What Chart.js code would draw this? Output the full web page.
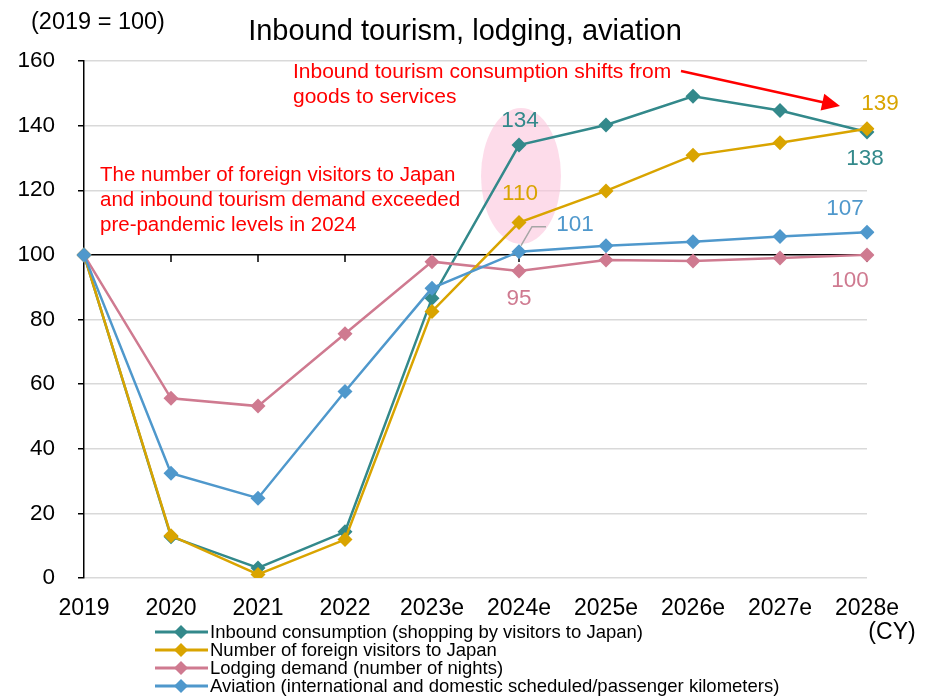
<!DOCTYPE html>
<html>
<head>
<meta charset="utf-8">
<script src="https://cdn.jsdelivr.net/npm/chart.js@4.4.1/dist/chart.umd.min.js"></script>
<style>
  html, body { margin: 0; padding: 0; background: #fff; }
  #wrap { width: 934px; height: 696px; position: relative; }
</style>
</head>
<body>
<div id="wrap"><canvas id="myChart" width="934" height="696"></canvas></div>
<script>
const years = ["2019", "2020", "2021", "2022", "2023e", "2024e", "2025e", "2026e", "2027e", "2028e"];

// index, 2019 = 100
const inboundConsumption = [100, 12.8, 3.1, 14.3, 86.6, 134, 140.2, 149.1, 144.7, 138];
const foreignVisitors = [100, 13.1, 1.1, 11.9, 82.5, 110, 119.8, 130.8, 134.7, 139];
const lodgingDemand = [100, 55.6, 53.2, 75.6, 97.9, 95, 98.4, 98.1, 99, 100];
const aviation = [100, 32.4, 24.7, 57.7, 89.7, 101, 102.8, 104.1, 105.7, 107];

const yMin = 0;
const yMax = 160;
const yStep = 20;

const FONT = '"Liberation Sans", Arial, sans-serif';
const TEAL = "#33898b";
const GOLD = "#d9a400";
const PINK = "#cf7a90";
const BLUE = "#4f98cc";

function series(label, data, color, order) {
  return {
    label: label,
    data: data,
    borderColor: color,
    backgroundColor: color,
    borderWidth: 2.5,
    pointStyle: "rectRot",
    pointRadius: 7.5,
    pointBorderWidth: 0,
    pointBackgroundColor: color,
    tension: 0,
    fill: false,
    order: order,
  };
}

// value labels at 2024e and 2028e, offsets in px from the point
const valueLabels = [
  { ds: 0, idx: 5, dx: 1, dy: -24 },
  { ds: 1, idx: 5, dx: 1, dy: -29 },
  { ds: 3, idx: 5, dx: 56, dy: -27 },
  { ds: 2, idx: 5, dx: 0, dy: 28 },
  { ds: 1, idx: 9, dx: 13, dy: -25 },
  { ds: 0, idx: 9, dx: -2, dy: 27 },
  { ds: 3, idx: 9, dx: -22, dy: -23 },
  { ds: 2, idx: 9, dx: -17, dy: 26 },
];

const decorations = {
  id: "decorations",
  beforeDatasetsDraw(chart) {
    const { ctx, scales: { x, y } } = chart;
    ctx.save();
    // highlight around 2024e
    ctx.fillStyle = "rgba(252, 196, 220, 0.6)";
    ctx.beginPath();
    ctx.ellipse(x.getPixelForValue(5) + 2, y.getPixelForValue(124.4), 40, 68, 0, 0, Math.PI * 2);
    ctx.fill();
    // category ticks hanging from the 100 line
    const y100 = y.getPixelForValue(100);
    ctx.strokeStyle = "#000";
    ctx.lineWidth = 1.5;
    years.forEach((_, i) => {
      const px = x.getPixelForValue(i);
      ctx.beginPath();
      ctx.moveTo(px, y100);
      ctx.lineTo(px, y100 + 7);
      ctx.stroke();
    });
    ctx.restore();
  },
  afterDraw(chart) {
    const { ctx, scales: { x, y } } = chart;
    const ds = chart.data.datasets;
    ctx.save();

    // titles
    ctx.fillStyle = "#000";
    ctx.textBaseline = "middle";
    ctx.textAlign = "center";
    ctx.font = "29px " + FONT;
    ctx.fillText("Inbound tourism, lodging, aviation", 465, 32);
    ctx.textAlign = "left";
    ctx.font = "23.5px " + FONT;
    ctx.fillText("(2019 = 100)", 31, 23);
    ctx.textAlign = "center";
    ctx.font = "23px " + FONT;
    ctx.fillText("(CY)", 892, 633);

    // red notes
    ctx.fillStyle = "#ff0000";
    ctx.textAlign = "left";
    ctx.font = "21px " + FONT;
    ctx.fillText("Inbound tourism consumption shifts from", 293, 72);
    ctx.fillText("goods to services", 293, 97);
    ctx.font = "20.5px " + FONT;
    ctx.fillText("The number of foreign visitors to Japan", 100, 175);
    ctx.fillText("and inbound tourism demand exceeded", 100, 200);
    ctx.fillText("pre-pandemic levels in 2024", 100, 225);

    // arrow
    const ax0 = 681, ay0 = 71, ax1 = 840, ay1 = 106;
    const ang = Math.atan2(ay1 - ay0, ax1 - ax0);
    ctx.strokeStyle = "#ff0000";
    ctx.lineWidth = 2.5;
    ctx.beginPath();
    ctx.moveTo(ax0, ay0);
    ctx.lineTo(ax1 - 14 * Math.cos(ang), ay1 - 14 * Math.sin(ang));
    ctx.stroke();
    ctx.beginPath();
    ctx.moveTo(ax1, ay1);
    ctx.lineTo(ax1 - 18 * Math.cos(ang) + 8.5 * Math.sin(ang), ay1 - 18 * Math.sin(ang) - 8.5 * Math.cos(ang));
    ctx.lineTo(ax1 - 18 * Math.cos(ang) - 8.5 * Math.sin(ang), ay1 - 18 * Math.sin(ang) + 8.5 * Math.cos(ang));
    ctx.closePath();
    ctx.fillStyle = "#ff0000";
    ctx.fill();

    // leader line for the 2024e aviation label
    const bx = x.getPixelForValue(5), by = y.getPixelForValue(ds[3].data[5]);
    ctx.strokeStyle = "#a6a6a6";
    ctx.lineWidth = 1.5;
    ctx.beginPath();
    ctx.moveTo(bx + 2, by - 6);
    ctx.lineTo(bx + 13, by - 25);
    ctx.lineTo(bx + 27, by - 25);
    ctx.stroke();

    // value labels
    ctx.font = "22.5px " + FONT;
    ctx.textAlign = "center";
    valueLabels.forEach(l => {
      const v = ds[l.ds].data[l.idx];
      ctx.fillStyle = ds[l.ds].borderColor;
      ctx.fillText(String(Math.round(v)), x.getPixelForValue(l.idx) + l.dx, y.getPixelForValue(v) + l.dy);
    });

    // legend
    ctx.font = "18.5px " + FONT;
    ctx.textAlign = "left";
    const legendOrder = [0, 1, 2, 3];
    legendOrder.forEach((d, i) => {
      const ly = 632 + i * 18;
      const c = ds[d].borderColor;
      ctx.strokeStyle = c;
      ctx.lineWidth = 3;
      ctx.beginPath();
      ctx.moveTo(155, ly);
      ctx.lineTo(208, ly);
      ctx.stroke();
      ctx.fillStyle = c;
      ctx.beginPath();
      ctx.moveTo(181, ly - 7);
      ctx.lineTo(188, ly);
      ctx.lineTo(181, ly + 7);
      ctx.lineTo(174, ly);
      ctx.closePath();
      ctx.fill();
      ctx.fillStyle = "#000";
      ctx.fillText(ds[d].label, 210, ly + 1);
    });

    ctx.restore();
  },
};

var ctx = document.getElementById("myChart").getContext("2d");
var myChart = new Chart(ctx, {
  type: "line",
  data: {
    labels: years,
    datasets: [
      series("Inbound consumption (shopping by visitors to Japan)", inboundConsumption, TEAL, 3),
      series("Number of foreign visitors to Japan", foreignVisitors, GOLD, 1),
      series("Lodging demand (number of nights)", lodgingDemand, PINK, 2),
      series("Aviation (international and domestic scheduled/passenger kilometers)", aviation, BLUE, 0),
    ],
  },
  options: {
    responsive: false,
    animation: false,
    layout: { padding: { top: 61, right: 67, bottom: 72, left: 0 } },
    plugins: {
      legend: { display: false },
      title: { display: false },
      tooltip: { enabled: false },
    },
    scales: {
      x: {
        offset: false,
        border: { display: false },
        grid: { display: false, drawTicks: false },
        ticks: {
          padding: 17,
          color: "#000",
          font: { size: 23, family: FONT },
          maxRotation: 0,
          autoSkip: false,
        },
        afterFit: s => { s.height = 46; },
      },
      y: {
        min: yMin,
        max: yMax,
        border: { color: "#000", width: 1.5 },
        grid: {
          color: c => (c.tick && c.tick.value === 100 ? "#000" : "#d9d9d9"),
          lineWidth: 1.5,
          tickColor: "#000",
          tickLength: 6,
        },
        ticks: {
          stepSize: yStep,
          padding: 23,
          color: "#000",
          font: { size: 22.5, family: FONT },
        },
        afterFit: s => { s.width = 84; },
      },
    },
  },
  plugins: [decorations],
});
</script>
</body>
</html>
